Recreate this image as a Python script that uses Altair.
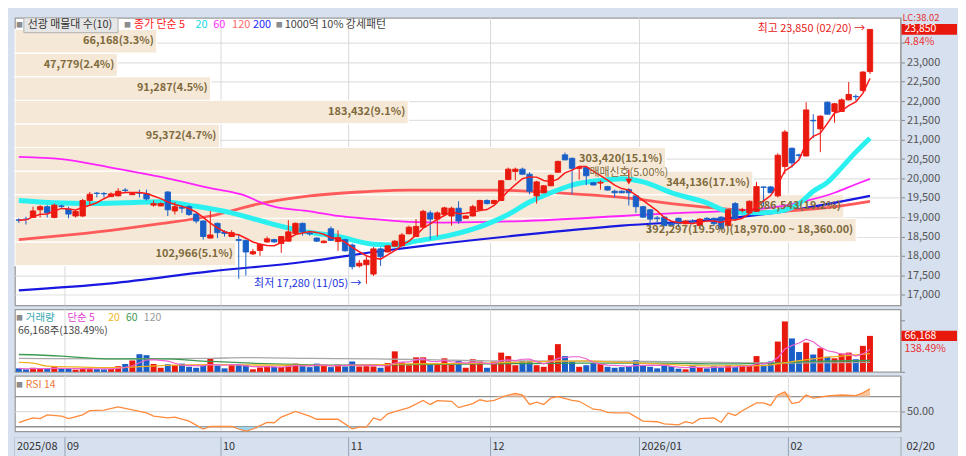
import altair as alt
import pandas as pd

FONT = "Noto Sans CJK KR"

# ---------------- data ----------------
opens = [18930, 18950, 18990, 19190, 19270, 18990, 19290, 19210, 19030, 19030,
         19430, 19620, 19610, 19530, 19550, 19700, 19580, 19630, 19610, 19310,
         19290, 19650, 19160, 19260, 19270, 19080, 18900, 18460, 18840, 18620,
         18500, 18420, 18400, 18050, 18140, 18360, 18420, 18320, 18380, 18580,
         18840, 18590, 18460, 18340, 18700, 18370, 18420, 18280, 17740, 17770,
         17530, 18180, 18100, 18250, 18260, 18570, 18500, 18740, 19110, 18950,
         19070, 19030, 19230, 18970, 19030, 19190, 19430, 19350, 19430, 19970,
         20180, 20240, 20110, 19550, 19630, 19810, 20160, 20610, 20520, 20260,
         20280, 19890, 19880, 19790, 19670, 19670, 19710, 19550, 19270, 19190,
         18980, 19000, 18840, 18970, 18830, 18890, 18780, 18970, 18970, 19000,
         18780, 19350, 19170, 19110, 19150, 19780, 19780, 19550, 20310, 20780,
         20610, 20580, 21500, 21280, 21970, 21730, 21730, 22030, 22120, 22270,
         22760]
highs = [18970, 19010, 19270, 19310, 19310, 19350, 19320, 19270, 19180, 19470,
         19650, 19650, 19650, 19640, 19750, 19750, 19640, 19710, 19710, 19430,
         19380, 19670, 19390, 19310, 19310, 19110, 18920, 19160, 18860, 18660,
         18660, 18540, 18420, 18180, 18320, 18500, 18440, 18510, 18920, 18860,
         18860, 18640, 18480, 18400, 18760, 18660, 18440, 18320, 17890, 17990,
         18230, 18220, 18280, 18400, 18590, 18780, 18950, 19190, 19170, 19150,
         19270, 19270, 19410, 19050, 19320, 19450, 19460, 19450, 19960, 20280,
         20280, 20280, 20160, 19940, 19830, 20100, 20460, 20670, 20540, 20310,
         20300, 19900, 19950, 19810, 19710, 19690, 19750, 19570, 19290, 19210,
         19030, 19020, 18860, 18990, 18920, 18950, 18970, 19000, 18990, 19020,
         19210, 19390, 19240, 19430, 19910, 19790, 19800, 20650, 21250, 20800,
         20640, 21970, 21660, 21630, 21990, 21950, 22070, 22490, 22170, 22770,
         23850]
lows = [18850, 18810, 18980, 18990, 18990, 18970, 19230, 18970, 18990, 19000,
        19310, 19510, 19510, 19520, 19540, 19630, 19570, 19510, 19430, 19270,
        19280, 19030, 19070, 19110, 19030, 18840, 18420, 18450, 18460, 18500,
        18490, 17410, 17490, 18020, 18000, 18340, 18340, 18080, 18370, 18540,
        18520, 18520, 18360, 18330, 18390, 18130, 18110, 17650, 17700, 17280,
        17480, 17740, 18090, 18240, 18250, 18560, 18490, 18730, 18420, 18500,
        19060, 18780, 18830, 18960, 19020, 19180, 19330, 19340, 19420, 19960,
        19950, 20100, 19590, 19350, 19620, 19800, 20150, 20470, 19590, 19970,
        19830, 19820, 19710, 19690, 19510, 19620, 19300, 19110, 18980, 18610,
        18860, 18770, 18760, 18740, 18820, 18830, 18770, 18900, 18780, 18690,
        18770, 18900, 19120, 19100, 19140, 19270, 19620, 19510, 20110, 20280,
        20500, 20570, 21040, 20680, 21650, 21440, 21720, 22020, 22010, 22240,
        22700]
closes = [18920, 18940, 19160, 19270, 19110, 19310, 19280, 19080, 19150, 19430,
          19590, 19610, 19600, 19600, 19670, 19690, 19610, 19620, 19470, 19350,
          19350, 19190, 19270, 19230, 19070, 18900, 18500, 18540, 18600, 18580,
          18600, 18400, 18100, 18110, 18300, 18440, 18360, 18500, 18620, 18840,
          18620, 18570, 18380, 18380, 18400, 18470, 18130, 17720, 17810, 17890,
          18180, 17980, 18260, 18380, 18540, 18740, 18760, 19150, 18950, 19110,
          19240, 19230, 18900, 19030, 19270, 19430, 19350, 19430, 19940, 20240,
          20240, 20110, 19670, 19910, 19810, 20080, 20440, 20480, 20260, 20290,
          20070, 19830, 19900, 19700, 19630, 19630, 19630, 19270, 19000, 18950,
          18960, 18780, 18780, 18830, 18900, 18880, 18950, 18950, 18830, 18700,
          19190, 18950, 19190, 19410, 19790, 19770, 19630, 20600, 21200, 20400,
          20590, 21770, 21490, 21610, 21660, 21930, 22030, 22170, 22110, 22750,
          23850]
volumes = [6400, 4600, 7500, 5800, 5200, 8700, 5200, 5800, 4000, 6400,
           6400, 5200, 4600, 5200, 10400, 14500, 20900, 32500, 30700, 14500,
           7500, 13900, 12200, 15100, 9300, 7500, 11600, 23800, 11600, 6400,
           12200, 12200, 12200, 4600, 8100, 11000, 9300, 9300, 12200, 15100,
           10400, 8700, 15100, 12200, 8700, 13300, 9900, 19100, 9900, 10400,
           9900, 7500, 16200, 37700, 17400, 12200, 26700, 26700, 13300, 14500,
           24900, 13300, 20300, 7500, 23200, 19100, 7500, 19100, 35400, 29000,
           12200, 20300, 20300, 12200, 9300, 30700, 51000, 29000, 19100, 9300,
           12200, 16200, 14500, 9300, 7500, 8700, 10400, 21500, 12200, 9300,
           6400, 11600, 10400, 5800, 4600, 11600, 7500, 6400, 10400, 8100,
           12200, 8700, 12200, 12200, 29000, 13300, 19100, 55700, 92800, 61500,
           36500, 53900, 31900, 43500, 27800, 24900, 33600, 35400, 23200, 47779,
           66168]

# month tick labels (first trading-day index of each month)
month_labels = ["09", "10", "11", "12", "2026/01", "02"]
month_starts = [7, 29, 47, 67, 88, 109]
first_label = "2025/08"
last_label = "02/20"
hi_date = "02/20"
lo_date = "11/05"

# price moving averages (candle index, value)
ma20_idx = [0, 5, 10, 15, 20, 25, 30, 35, 40, 45, 50, 53, 56, 61, 66, 69, 72, 75, 78, 82,
            85, 88, 92, 97, 100, 104, 107, 110, 112, 114, 116, 118, 120]
ma20_val = [19430, 19370, 19350, 19370, 19400, 19280, 19110, 18860, 18640, 18500,
            18300, 18280, 18380, 18540, 18820, 19070, 19390, 19630, 19830, 19950,
            19990, 19910, 19630, 19370, 19150, 19110, 19150, 19350, 19670, 19900,
            20280, 20680, 21040]
ma60_idx = [0, 6, 13, 20, 27, 32, 34, 36, 41, 45, 50, 55, 60, 71, 85, 92, 99, 103, 108,
            111, 115, 118, 120]
ma60_val = [20560, 20500, 20280, 20040, 19750, 19550, 19390, 19270, 19150, 19030,
            18950, 18880, 18860, 18900, 19030, 19100, 19150, 19190, 19300, 19420,
            19630, 19850, 19990]
ma120_idx = [0, 6, 13, 20, 27, 34, 41, 48, 55, 67, 76, 85, 94, 101, 106, 113, 120]
ma120_val = [18420, 18520, 18660, 18830, 19030, 19350, 19550, 19650, 19700, 19700,
             19630, 19510, 19310, 19190, 19150, 19230, 19410]
ma200_idx = [0, 13, 27, 41, 50, 57, 71, 85, 99, 108, 120]
ma200_val = [17110, 17290, 17600, 17860, 18100, 18260, 18540, 18780, 18950, 19150, 19550]

# volume moving averages
vma20_idx = [0, 2, 4, 9, 13, 20, 27, 36, 45, 55, 66, 75, 80, 84, 89, 98, 105, 109, 112, 116, 120]
vma20_val = [17400, 16200, 10400, 8700, 7500, 11600, 13300, 12200, 11600, 14500,
             16200, 19100, 20300, 18000, 15000, 11000, 11600, 19000, 24000, 29000, 33600]
vma60_idx = [0, 6, 9, 13, 20, 27, 36, 45, 55, 66, 79, 91, 98, 107, 112, 120]
vma60_val = [31900, 29000, 26100, 23800, 23800, 19100, 14500, 12200, 13300, 14500,
             16200, 16200, 14500, 16200, 19100, 20900]
vma120_idx = [0, 13, 27, 32, 41, 50, 59, 66, 89, 107, 120]
vma120_val = [24900, 23800, 24900, 26100, 24900, 23800, 22000, 20300, 19100, 16200, 17400]

# RSI 14
rsi_idx = [0, 1, 2, 3, 4, 6, 7, 9, 10, 12, 14, 16, 18, 19, 21, 22, 24, 26, 27, 30,
           31, 32, 33, 35, 36, 37, 39, 41, 42, 45, 47, 48, 49, 50, 51, 52, 53, 55, 57, 58,
           59, 61, 62, 64, 65, 66, 67, 69, 70, 71, 72, 73, 74, 75, 76, 78, 79, 81, 82, 83,
           84, 86, 88, 90, 91, 93, 94, 95, 96, 98, 99, 100, 101, 102, 104, 105, 106, 107, 108, 109,
           110, 111, 112, 113, 114, 116, 118, 119, 120]
rsi_val = [35.4, 38.8, 41.7, 40.8, 45.8, 44.2, 40.8, 45.8, 51.3, 52.1,
           56.3, 52.5, 48.3, 44.2, 41.7, 42.9, 37.5, 27.1, 30.4, 30.4,
           27.1, 24.2, 27.1, 35.8, 35.4, 42.9, 50.4, 44.2, 40.0, 40.0,
           27.5, 29.6, 29.6, 41.7, 38.8, 47.1, 50.0, 55.4, 65.0, 59.6,
           64.6, 63.8, 55.4, 60.8, 65.8, 63.8, 65.0, 72.1, 74.2, 72.1,
           59.6, 62.5, 59.6, 67.9, 70.0, 65.0, 63.8, 53.3, 52.5, 49.2,
           48.3, 48.3, 37.5, 36.7, 33.8, 32.5, 36.7, 34.6, 40.8, 41.7,
           35.8, 48.3, 45.0, 51.3, 61.7, 61.7, 58.3, 72.1, 76.3, 60.8,
           62.5, 72.1, 67.9, 69.2, 70.8, 72.1, 71.3, 75.0, 80.4]

# volume profile (매물대) bands
band_lo = [17750, 18360, 18970, 19580, 20190, 20800, 21410, 22020, 22630, 23240]
band_step = 610
band_vol = [102966, 392297, 386543, 344136, 303420, 95372, 183432, 91287, 47779, 66168]

# trade-signal marker
sig_i = 86
sig_price = 20300
sig_text = "매매신호(5.00%)"

# ---------------- styling ----------------
RED = "#e8190e"
BLUE = "#1a5fc8"
AXBG = "#d6e0ef"
W = 893
H_P, H_V, H_R, H_X = 290, 63, 56, 19
XDOM = [-0.55, 124.3]
PDOM = [16720, 24150]
VDOM = [0, 115000]
RDOM = [24, 97.5]

n = len(closes)
cdf = pd.DataFrame({"i": list(range(n)), "o": opens, "h": highs, "l": lows,
                    "c": closes, "v": volumes})
cdf["d"] = ["u" if c >= o else "d" for o, c in zip(opens, closes)]


def xenc(field="i"):
    return alt.X(f"{field}:Q", scale=alt.Scale(domain=XDOM, nice=False, zero=False), axis=None)


p_axis = alt.Axis(orient="right", values=list(range(17000, 23501, 500)),
                  labelExpr="datum.value == 23500 ? '' : format(datum.value, ',')",
                  labelFont=FONT, labelFontSize=11, labelColor="#555", tickColor="#888",
                  tickSize=4, domainColor="#999", grid=True, gridColor="#e2e2e2",
                  gridWidth=1.2, title=None, labelPadding=2)


def yp(field):
    return alt.Y(f"{field}:Q", scale=alt.Scale(domain=PDOM, nice=False, zero=False), axis=p_axis)


v_axis = alt.Axis(orient="right", values=[0, 95000], labels=False, tickColor="#888",
                  tickSize=4, domainColor="#999", grid=False, title=None)


def yv(field):
    return alt.Y(f"{field}:Q", scale=alt.Scale(domain=VDOM, nice=False, zero=False), axis=v_axis)


r_axis = alt.Axis(orient="right", values=[50], labelExpr="format(datum.value, '.2f')",
                  labelFont=FONT, labelFontSize=11,
                  labelColor="#555", tickColor="#888", tickSize=4, domainColor="#999",
                  grid=False, title=None, labelPadding=2)


def yr(field):
    return alt.Y(f"{field}:Q", scale=alt.Scale(domain=RDOM, nice=False, zero=False), axis=r_axis)


def dir_scale():
    return alt.Scale(domain=["u", "d"], range=[RED, BLUE])


def ptext(txt, x, y, color, size=11, align="left", **kw):
    return alt.Chart(pd.DataFrame({"t": [txt]})).mark_text(
        align=align, baseline="middle", font=FONT, fontSize=size, color=color, **kw
    ).encode(x=alt.value(x), y=alt.value(y), text="t:N")


def ma_line(idx, vals, color, width, yfn):
    df = pd.DataFrame({"i": idx, "m": vals})
    return alt.Chart(df).mark_line(color=color, strokeWidth=width, interpolate="monotone").encode(
        x=xenc(), y=yfn("m"))


months = pd.DataFrame({"s": month_starts, "lab": month_labels})


def month_rules(color="#dadada"):
    return alt.Chart(months).transform_calculate(b="datum.s - 0.5").mark_rule(
        color=color, strokeWidth=1).encode(x=xenc("b"))


# ---------------- price panel ----------------
total = sum(band_vol)
imax_band = band_vol.index(max(band_vol))
labels = []
for k, v in enumerate(band_vol):
    s = f"{v:,}({v / total * 100:.1f}%)"
    if k == imax_band:
        s += f"({band_lo[k] + band_step:,.2f} ~ {band_lo[k]:,.2f})"
    labels.append(s)
bdf = pd.DataFrame({"lo": band_lo, "vol": band_vol, "label": labels})
bx = alt.X("vol:Q", scale=alt.Scale(domain=[0, max(band_vol) / 0.95], nice=False, zero=True), axis=None)

bands = alt.Chart(bdf).transform_calculate(
    hi=f"datum.lo + {band_step}", z="0").mark_rect(
    fill="#f5e8d6", stroke="white", strokeWidth=1.2).encode(
    x=bx, x2=alt.X2("z:Q"), y=yp("lo"), y2=alt.Y2("hi:Q"))
band_text = alt.Chart(bdf).transform_calculate(mid=f"datum.lo + {band_step / 2}").mark_text(
    align="right", baseline="middle", dx=-3, font=FONT, fontSize=11, fontWeight="bold",
    color="#7f6a3c").encode(x=bx, y=yp("mid"), text="label:N")

wicks = alt.Chart(cdf).mark_rule(strokeWidth=1).encode(
    x=xenc(), y=yp("l"), y2=alt.Y2("h:Q"),
    color=alt.Color("d:N", scale=dir_scale(), legend=None))
bodies = alt.Chart(cdf).transform_calculate(
    x0="datum.i - 0.38", x1="datum.i + 0.38",
    bt="max(datum.o, datum.c)", bb="min(datum.o, datum.c)").mark_rect(strokeWidth=0.9).encode(
    x=xenc("x0"), x2=alt.X2("x1:Q"), y=yp("bb"), y2=alt.Y2("bt:Q"),
    fill=alt.Fill("d:N", scale=dir_scale(), legend=None),
    stroke=alt.Stroke("d:N", scale=dir_scale(), legend=None))
ma5 = alt.Chart(cdf).transform_window(
    ma5="mean(c)", frame=[-4, 0], sort=[alt.SortField("i")]).mark_line(
    color="#ff1a1a", strokeWidth=1.5).encode(x=xenc(), y=yp("ma5"))

imax = highs.index(max(highs))
imin = lows.index(min(lows))
hi_df = pd.DataFrame({"i": [imax], "p": [highs[imax]],
                      "t": [f"최고 {highs[imax]:,} ({hi_date}) →"]})
lo_df = pd.DataFrame({"i": [imin], "p": [lows[imin]],
                      "t": [f"최저 {lows[imin]:,} ({lo_date}) →"]})
hi_txt = alt.Chart(hi_df).mark_text(align="right", baseline="middle", dx=-5, font=FONT,
                                    fontSize=11, color="#e82020").encode(
    x=xenc(), y=yp("p"), text="t:N")
lo_txt = alt.Chart(lo_df).mark_text(align="right", baseline="middle", dx=-5, font=FONT,
                                    fontSize=11, color="#2233dd").encode(
    x=xenc(), y=yp("p"), text="t:N")

sig_df = pd.DataFrame({"i": [sig_i], "p": [sig_price], "t": [sig_text],
                       "top": [highs[sig_i] + 480], "bot": [highs[sig_i] + 170]})
sig_txt = alt.Chart(sig_df).mark_text(align="center", baseline="middle", dy=6, font=FONT,
                                      fontSize=11, color="#7f6a3c").encode(
    x=xenc(), y=yp("p"), text="t:N")
sig_line = alt.Chart(sig_df).mark_rule(color="#e8190e", strokeWidth=1.2).encode(
    x=xenc(), y=yp("top"), y2=alt.Y2("bot:Q"))
sig_tri = alt.Chart(sig_df).mark_point(shape="triangle-down", filled=True, size=45,
                                       color="#e8190e", opacity=1).encode(
    x=xenc(), y=yp("bot"))

last_c = closes[-1]
chg = (closes[-1] / closes[-2] - 1) * 100
box_df = pd.DataFrame({"c": [last_c], "t": [f"{last_c:,}"], "pct": [f"{chg:.2f}%"],
                       "lc": ["LC:38.02"]})
box = alt.Chart(box_df).transform_calculate(a="datum.c + 140", b="datum.c - 140").mark_rect(
    fill="#e8180c").encode(x=alt.value(W + 1), x2=alt.value(W + 57), y=yp("a"), y2=alt.Y2("b:Q"))
box_t = alt.Chart(box_df).mark_text(align="left", baseline="middle", font=FONT, fontSize=10.5,
                                    color="white").encode(
    x=alt.value(W + 4), y=yp("c"), text="t:N")
box_p = alt.Chart(box_df).mark_text(align="left", baseline="middle", dy=13, font=FONT,
                                    fontSize=10.5, color="#e83030").encode(
    x=alt.value(W + 4), y=yp("c"), text="pct:N")
box_lc = alt.Chart(box_df).mark_text(align="left", baseline="middle", dy=-12, font=FONT,
                                     fontSize=9.5, color="#e83030").encode(
    x=alt.value(W + 2), y=yp("c"), text="lc:N")

legend_box = alt.Chart(pd.DataFrame({"t": [0]})).mark_rect(
    fill="#e6e6e6", stroke="#b0b0b0", strokeWidth=1).encode(
    x=alt.value(9), x2=alt.value(104), y=alt.value(0), y2=alt.value(15))
GRAY_SQ = "#8c8c8c"
LY = 7.5
p_legend = [
    legend_box,
    ptext("■", 1, LY, GRAY_SQ, size=7),
    ptext("선광 매물대 수(10)", 13, LY, "#333"),
    ptext("■", 110, LY, GRAY_SQ, size=7),
    ptext("종가 단순 5", 120, LY, "#ff2020"),
    ptext("20", 182, LY, "#20d8e8"),
    ptext("60", 200, LY, "#ff30ff"),
    ptext("120", 219, LY, "#ff6a6a"),
    ptext("200", 240, LY, "#2222ff"),
    ptext("■", 263, LY, GRAY_SQ, size=7),
    ptext("1000억 10% 강세패턴", 272, LY, "#444"),
]

price = alt.layer(
    month_rules(),
    bands,
    ma_line(ma200_idx, ma200_val, "#1818e0", 2.2, yp),
    ma_line(ma120_idx, ma120_val, "#ff5a5a", 2.8, yp),
    ma_line(ma60_idx, ma60_val, "#ff22ff", 1.8, yp),
    ma_line(ma20_idx, ma20_val, "#2af0f0", 5, yp),
    wicks, bodies, ma5,
    band_text,
    sig_line, sig_tri, sig_txt,
    hi_txt, lo_txt,
    box, box_t, box_p, box_lc,
    *p_legend,
).resolve_scale(x="independent").properties(width=W, height=H_P)

# ---------------- volume panel ----------------
vbars = alt.Chart(cdf).transform_calculate(
    x0="datum.i - 0.42", x1="datum.i + 0.42", z="0").mark_rect().encode(
    x=xenc("x0"), x2=alt.X2("x1:Q"), y=yv("z"), y2=alt.Y2("v:Q"),
    fill=alt.Fill("d:N", scale=dir_scale(), legend=None))
vma5 = alt.Chart(cdf).transform_window(
    vm5="mean(v)", frame=[-4, 0], sort=[alt.SortField("i")]).mark_line(
    color="#ee5fcf", strokeWidth=1.2).encode(x=xenc(), y=yv("vm5"))

last_v = volumes[-1]
vchg = last_v / volumes[-2] * 100
vbox_df = pd.DataFrame({"v": [last_v], "t": [f"{last_v:,}"], "pct": [f"{vchg:.2f}%"]})
vbox = alt.Chart(vbox_df).transform_calculate(a="datum.v + 9500", b="datum.v - 9500").mark_rect(
    fill="#e8180c").encode(x=alt.value(W + 1), x2=alt.value(W + 57), y=yv("a"), y2=alt.Y2("b:Q"))
vbox_t = alt.Chart(vbox_df).mark_text(align="left", baseline="middle", font=FONT, fontSize=10.5,
                                      color="white").encode(
    x=alt.value(W + 4), y=yv("v"), text="t:N")
vbox_p = alt.Chart(vbox_df).mark_text(align="left", baseline="middle", dy=13, font=FONT,
                                      fontSize=10.5, color="#e83030").encode(
    x=alt.value(W + 4), y=yv("v"), text="pct:N")

VLY = 9
volume = alt.layer(
    month_rules(),
    vbars,
    ma_line(vma120_idx, vma120_val, "#a8a8a8", 1.3, yv),
    ma_line(vma60_idx, vma60_val, "#3c9a50", 1.3, yv),
    ma_line(vma20_idx, vma20_val, "#f0b020", 1.3, yv),
    vma5,
    vbox, vbox_t, vbox_p,
    ptext("■", 1, VLY, GRAY_SQ, size=7),
    ptext("거래량", 11, VLY, "#3aa6b0", size=10.5),
    ptext("단순 5", 53, VLY, "#e040d0", size=10.5),
    ptext("20", 94, VLY, "#f0b428", size=10.5),
    ptext("60", 112, VLY, "#3c9a50", size=10.5),
    ptext("120", 130, VLY, "#999999", size=10.5),
    ptext(f"{last_v:,}주({vchg:.2f}%)", 3, 22, "#444", size=10.5),
).resolve_scale(x="independent").properties(width=W, height=H_V)

# ---------------- RSI panel ----------------
rdf = pd.DataFrame({"i": rsi_idx, "r": rsi_val})
r_hi = alt.Chart(rdf).transform_calculate(top="max(datum.r, 70)", t70="70").mark_area(
    color="#f9c6a0").encode(x=xenc(), y=yr("top"), y2=alt.Y2("t70:Q"))
r_lo = alt.Chart(rdf).transform_calculate(bot="min(datum.r, 30)", t30="30").mark_area(
    color="#9fd4ee").encode(x=xenc(), y=yr("bot"), y2=alt.Y2("t30:Q"))
lvl = pd.DataFrame({"y": [70, 30]})
r_levels = alt.Chart(lvl).mark_rule(color="#8f8f8f", strokeWidth=1.4).encode(y=yr("y"))
r_mid = alt.Chart(pd.DataFrame({"y": [50]})).mark_rule(color="#d4d4d4", strokeWidth=1).encode(y=yr("y"))
r_line = alt.Chart(rdf).mark_line(color="#ff8a3c", strokeWidth=1.3).encode(x=xenc(), y=yr("r"))

rsi = alt.layer(
    month_rules(),
    r_mid, r_levels, r_hi, r_lo, r_line,
    ptext("■", 1, 9, GRAY_SQ, size=7),
    ptext("RSI 14", 11, 9, "#f07838", size=10.5),
).resolve_scale(x="independent").properties(width=W, height=H_R)

# ---------------- x-axis strip ----------------
strip_bg = alt.Chart(pd.DataFrame({"t": [0]})).mark_rect(fill=AXBG).encode(
    x=alt.value(0), x2=alt.value(W), y=alt.value(0), y2=alt.value(H_X))
strip_rules = alt.Chart(months).transform_calculate(b="datum.s - 0.5").mark_rule(
    color="#97a2b4", strokeWidth=1).encode(x=xenc("b"))
strip_text = alt.Chart(months).transform_calculate(b="datum.s - 0.5").mark_text(
    align="left", baseline="middle", dx=2, font=FONT, fontSize=11, color="#333").encode(
    x=xenc("b"), y=alt.value(H_X / 2), text="lab:N")
strip = alt.layer(
    strip_bg, strip_rules, strip_text,
    ptext(first_label, 2, H_X / 2, "#333"),
    ptext(last_label, W + 6, H_X / 2, "#333"),
).resolve_scale(x="independent").properties(width=W, height=H_X)

chart = alt.vconcat(price, volume, rsi, strip, spacing=0).properties(
    background=AXBG,
    padding={"left": 0, "top": 2, "right": 0, "bottom": 0},
).configure_view(stroke="#9a9a9a", fill="white", strokeWidth=1.2)

chart.save("out.html", embed_options={"renderer": "svg", "actions": False})
